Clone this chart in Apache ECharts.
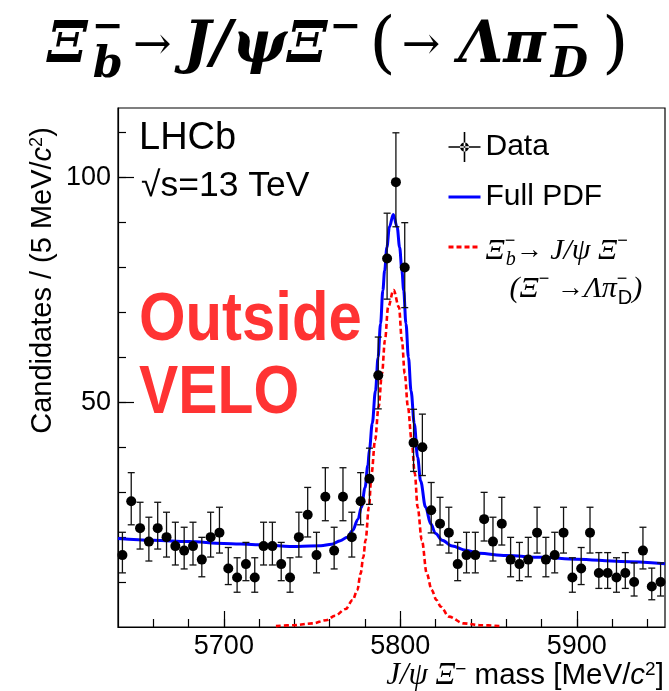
<!DOCTYPE html>
<html>
<head>
<meta charset="utf-8">
<script src="https://cdn.jsdelivr.net/npm/echarts@6/dist/echarts.min.js"></script>
<style>
html,body{margin:0;padding:0;background:#ffffff;}
#chart{width:669px;height:691px;}
</style>
</head>
<body>
<div id="chart"></div>
<script>
// ---- data ----
const massBins = [5642.5,5647.5,5652.5,5657.5,5662.5,5667.5,5672.5,5677.5,5682.5,5687.5,
  5692.5,5697.5,5702.5,5707.5,5712.5,5717.5,5722.5,5727.5,5732.5,5737.5,
  5742.5,5747.5,5752.5,5757.5,5762.5,5767.5,5772.5,5777.5,5782.5,5787.5,
  5792.5,5797.5,5802.5,5807.5,5812.5,5817.5,5822.5,5827.5,5832.5,5837.5,
  5842.5,5847.5,5852.5,5857.5,5862.5,5867.5,5872.5,5877.5,5882.5,5887.5,
  5892.5,5897.5,5902.5,5907.5,5912.5,5917.5,5922.5,5927.5,5932.5,5937.5,
  5942.5,5947.5];
const counts = [16,28,22,19,22,20,18,17,18,15,
  20,21,13,11,14,11,18,18,14,11,
  20,25,16,29,17,29,20,28,33,56,
  82,99,80,41,40,26,23,21,14,16,
  16,24,19,23,15,14,15,21,15,16,
  21,11,13,21,12,12,11,12,10,17,
  9,10];

const pdfMass = [5640,5660,5680,5700,5720,5742,5755,5761,5766,5770,5773,5776,5778,5780,5781.6,5782.5,5784.1,5785.9,5787.4,5788.8,5790.1,5791.1,5792.4,5793.8,5796.0,5798.2,5799.6,5800.9,5801.9,5803.2,5804.6,5806.1,5807.9,5809.8,5811.5,5814.3,5817.2,5820.0,5823.7,5829.4,5837.0,5844.5,5860,5880,5900,5925,5950];
const pdfValue = [19.7,19.3,19.0,18.6,18.3,17.9,18.1,18.4,19.2,20.0,21.5,24.0,26.7,31.0,36.0,39.5,45.3,52.5,60.0,67.5,74.9,79.3,84.5,89.0,91.8,89.0,84.5,79.3,74.9,67.5,60.0,52.5,45.3,37.8,32.5,26.7,23.0,20.8,19.3,18.0,17.1,16.4,15.9,15.5,15.1,14.6,14.1];

const sigMass = [5729.5,5740,5750,5758,5763,5769,5773,5775.6,5777.5,5779,5780.3,5782.2,5783.7,5785.7,5787.7,5789.6,5791.3,5793.1,5796.2,5799.2,5800.9,5802.5,5804.3,5806.4,5808.2,5809.8,5812.2,5815.0,5817.8,5820.5,5823,5827.5,5836,5845,5857];
const sigValue = [0.2,0.4,0.8,1.5,2.5,4.0,6.0,8.2,11.9,15.5,19.3,26.7,34.2,41.6,49.0,56.4,63.8,71.2,75.0,71.2,63.8,56.4,49.0,41.6,34.2,26.7,19.3,11.9,8.2,6.0,4.5,2.3,0.8,0.4,0.2];

const xMajorTicks = [5700,5800,5900];
const xMinorTicks = [5660,5680,5700,5720,5740,5760,5780,5800,5820,5840,5860,5880,5900,5920,5940];
const yMajorTicks = [50,100];
const yMinorTicks = [10,20,30,40,50,60,70,80,90,100,110];

// Poisson (68%) interval for the error bars
function poissonLow(n){ if(n<=0) return 0; return n*Math.pow(1-1/(9*n)-1/(3*Math.sqrt(n)),3); }
function poissonHigh(n){ const m=n+1; return m*Math.pow(1-1/(9*m)+1/(3*Math.sqrt(m)),3); }

const pointData = massBins.map((m,i)=>[m,counts[i]]);
const errData = massBins.map((m,i)=>[m,poissonLow(counts[i]),poissonHigh(counts[i])]);
const pdfData = pdfMass.map((m,i)=>[m,pdfValue[i]]);
const sigData = sigMass.map((m,i)=>[m,sigValue[i]]);

const SANS = 'Liberation Sans';
const SERIF = 'Liberation Serif';
const TSERIF = 'DejaVu Serif';
const SIG = 'sig';
const plain = function(v){ return String(v); };

const chart = echarts.init(document.getElementById('chart'), null, {renderer:'canvas'});

const option = {
  backgroundColor:'#ffffff',
  animation:false,
  title:{
    left:42, top:2,
    text:'{big|Ξ}{supz|−}{sub|b}{ar|→}{big|J/ψΞ}{sup|−}{op|(}{ar2|→}{big|Λπ}{supz|−}{sub|D}{cl|)}',
    textStyle:{
      fontWeight:'normal',
      rich:{
        big:{fontFamily:TSERIF,fontWeight:'bold',fontStyle:'italic',fontSize:58,lineHeight:80,color:'#000'},
        op:{fontFamily:TSERIF,fontWeight:'normal',fontStyle:'normal',fontSize:68,lineHeight:80,color:'#000',padding:[0,0,0,8]},
        cl:{fontFamily:TSERIF,fontWeight:'normal',fontStyle:'normal',fontSize:68,lineHeight:80,color:'#000',padding:[0,0,0,14]},
        ar:{fontFamily:TSERIF,fontWeight:'normal',fontSize:46,lineHeight:80,color:'#000',padding:[0,12,0,10]},
        ar2:{fontFamily:TSERIF,fontWeight:'normal',fontSize:46,lineHeight:80,color:'#000',padding:[0,18,0,6]},
        sup:{fontFamily:TSERIF,fontWeight:'bold',fontSize:38,verticalAlign:'top',color:'#000',padding:[2,0,0,2]},
        supz:{fontFamily:TSERIF,fontWeight:'bold',fontSize:38,verticalAlign:'top',color:'#000',width:1,padding:[2,0,0,4]},
        sub:{fontFamily:TSERIF,fontWeight:'bold',fontStyle:'italic',fontSize:43,verticalAlign:'bottom',color:'#000'}
      }
    }
  },
  grid:{left:118,right:4,top:108,bottom:64,containLabel:false,outerBoundsMode:'none',show:true,borderColor:'#000',borderWidth:1.2,backgroundColor:'transparent'},
  legend:{
    orient:'vertical', left:447, top:132, padding:0,
    itemWidth:32, itemHeight:30, itemGap:20,
    lineStyle:{width:3},
    textStyle:{
      fontFamily:SANS, fontSize:30, color:'#000',
      rich:{
        it:{fontFamily:SERIF,fontStyle:'italic',fontSize:30,lineHeight:38,color:'#000'},
        ar:{fontFamily:SANS,fontSize:27,lineHeight:38,color:'#000'},
        sup:{fontFamily:SANS,fontSize:18,verticalAlign:'top',color:'#000'},
        supz:{fontFamily:SANS,fontSize:18,verticalAlign:'top',color:'#000',width:1},
        sub:{fontFamily:SERIF,fontStyle:'italic',fontSize:20,verticalAlign:'bottom',color:'#000'},
        subD:{fontFamily:SANS,fontSize:20,verticalAlign:'bottom',color:'#000'},
        ind:{width:24}
      }
    },
    formatter:function(name){
      if(name===SIG){
        return '{it|Ξ}{supz|−}{sub|b}{ar|→ }{it|J/ψ Ξ}{sup|−}\n{ind| }{it|(Ξ}{sup|−}{ar| →}{it|Λπ}{supz|−}{subD|D}{it|)}';
      }
      return name;
    },
    data:[
      {name:'Data', icon:'path://M0,14.2H32V15.8H0Z M15.2,0H16.8V30H15.2Z M20.5,15A4.5,4.5 0 1 0 11.5,15A4.5,4.5 0 1 0 20.5,15Z'},
      {name:'Full PDF', itemStyle:{opacity:0}},
      {name:SIG, itemStyle:{opacity:0}, textStyle:{padding:[46,0,0,0]}}
    ]
  },
  xAxis:[{
    type:'value', min:5640, max:5950, gridIndex:0, position:'bottom',
    axisLine:{show:true,lineStyle:{color:'#000',width:1.2}},
    axisTick:{show:true,inside:true,length:8,customValues:xMinorTicks,lineStyle:{color:'#000',width:1.2}},
    axisLabel:{show:true,customValues:xMajorTicks,formatter:plain,margin:6,fontFamily:SANS,fontSize:27,color:'#000'},
    splitLine:{show:false},
    name:'{it|J/ψ Ξ}{sup|−}{rm| mass [MeV/}{itc|c}{sup|2}{rm|]}',
    nameLocation:'middle', nameGap:33, nameMoveOverlap:false,
    nameTextStyle:{
      align:'center', verticalAlign:'top', padding:[0,0,0,267],
      rich:{
        it:{fontFamily:SERIF,fontStyle:'italic',fontSize:31,color:'#000'},
        sup:{fontFamily:SANS,fontSize:19,verticalAlign:'top',color:'#000'},
        rm:{fontFamily:SANS,fontSize:29.5,color:'#000'},
        itc:{fontFamily:SANS,fontStyle:'italic',fontSize:29.5,color:'#000'}
      }
    }
  },{
    type:'value', min:5640, max:5950, gridIndex:0, position:'bottom',
    axisLine:{show:false},
    axisTick:{show:true,inside:true,length:16,customValues:xMajorTicks,lineStyle:{color:'#000',width:1.2}},
    axisLabel:{show:false},
    splitLine:{show:false}
  }],
  yAxis:[{
    type:'value', min:0, max:115.5, gridIndex:0, position:'left',
    axisLine:{show:true,lineStyle:{color:'#000',width:1.2}},
    axisTick:{show:true,inside:true,length:8,customValues:yMinorTicks,lineStyle:{color:'#000',width:1.2}},
    axisLabel:{show:true,customValues:yMajorTicks,formatter:plain,margin:7,fontFamily:SANS,fontSize:27,color:'#000'},
    splitLine:{show:false},
    name:'{rm|Candidates / (5 MeV/}{it|c}{sup|2}{rm|)}',
    nameLocation:'middle', nameGap:61, nameMoveOverlap:false,
    nameTextStyle:{
      padding:[0,0,0,174],
      rich:{
        rm:{fontFamily:SANS,fontSize:29,color:'#000'},
        it:{fontFamily:SANS,fontStyle:'italic',fontSize:29,color:'#000'},
        sup:{fontFamily:SANS,fontSize:18,verticalAlign:'top',color:'#000'}
      }
    }
  },{
    type:'value', min:0, max:115.5, gridIndex:0, position:'left',
    axisLine:{show:false},
    axisTick:{show:true,inside:true,length:16,customValues:yMajorTicks,lineStyle:{color:'#000',width:1.2}},
    axisLabel:{show:false},
    splitLine:{show:false}
  }],
  graphic:[
    {type:'text', x:139, y:120, style:{text:'LHCb', fontFamily:SANS, fontSize:38, fill:'#000'}},
    {type:'text', x:141, y:168, style:{text:'√s=13 TeV', fontFamily:SANS, fontSize:35.5, fill:'#000'}},
    {type:'text', x:139, y:287, scaleX:0.88, style:{text:'Outside', fontFamily:SANS, fontWeight:'bold', fontSize:68, fill:'#ff3333'}},
    {type:'text', x:139, y:360, scaleX:0.865, style:{text:'VELO', fontFamily:SANS, fontWeight:'bold', fontSize:68, fill:'#ff3333'}}
  ],
  series:[
    {
      name:'Full PDF', type:'line', xAxisIndex:0, yAxisIndex:0,
      data:pdfData, showSymbol:false, symbol:'none', smooth:0.35, smoothMonotone:'x',
      lineStyle:{color:'#0000ff',width:3}, itemStyle:{color:'#0000ff'}, z:2
    },
    {
      name:SIG, type:'line', xAxisIndex:0, yAxisIndex:0,
      data:sigData, showSymbol:false, symbol:'none', smooth:0.35, smoothMonotone:'x',
      lineStyle:{color:'#ff0000',width:2.6,type:[5,3]}, itemStyle:{color:'#ff0000'}, z:2
    },
    {
      name:'Data', type:'custom', xAxisIndex:0, yAxisIndex:0,
      data:errData, encode:{x:0,y:[1,2]}, z:3,
      itemStyle:{color:'#000'},
      renderItem:function(params, api){
        const x = api.value(0);
        const top = api.coord([x, api.value(2)]);
        const bot = api.coord([x, api.value(1)]);
        const cw = 3.5;
        const st = {stroke:'#111', lineWidth:1.3};
        return {type:'group', children:[
          {type:'line', shape:{x1:top[0],y1:top[1],x2:bot[0],y2:bot[1]}, style:st},
          {type:'line', shape:{x1:top[0]-cw,y1:top[1],x2:top[0]+cw,y2:top[1]}, style:st},
          {type:'line', shape:{x1:bot[0]-cw,y1:bot[1],x2:bot[0]+cw,y2:bot[1]}, style:st}
        ]};
      }
    },
    {
      name:'Data', type:'scatter', xAxisIndex:0, yAxisIndex:0,
      data:pointData, symbol:'circle', symbolSize:10,
      itemStyle:{color:'#000',opacity:1}, z:4
    }
  ]
};
chart.setOption(option);
</script>
</body>
</html>
